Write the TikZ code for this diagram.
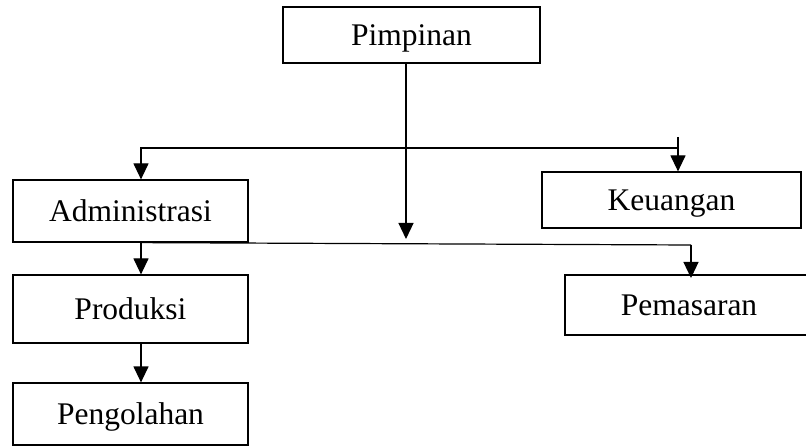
\documentclass[tikz,border=0pt]{standalone}
\usepackage{fontspec}
\setmainfont{Liberation Serif}
\usetikzlibrary{arrows.meta}
\begin{document}
\begin{tikzpicture}[x=1pt,y=-1pt,
  box/.style={draw,line width=1.2pt,inner sep=0pt,text depth=0pt,font=\fontsize{31.5}{36}\selectfont},
  arr/.style={line width=1.2pt,-{Triangle[width=15pt,length=16pt]}},
  ln/.style={line width=1.2pt}]
\clip (0,0) rectangle (806,446);
\useasboundingbox (0,0) rectangle (806,446);
\node[box,minimum width=257pt,minimum height=56pt] (pim) at (411.5,35) {Pimpinan};
\node[box,minimum width=235pt,minimum height=62pt] (adm) at (130.5,211) {Administrasi};
\node[box,minimum width=235pt,minimum height=68pt] (pro) at (130.5,309) {Produksi};
\node[box,minimum width=235pt,minimum height=62pt] (pen) at (130.5,414) {Pengolahan};
\node[box,minimum width=259pt,minimum height=56pt] (keu) at (671.5,200) {Keuangan};
\node[box,minimum width=248pt,minimum height=60pt] (pem) at (689,305) {Pemasaran};
\coordinate (midtip) at (406,239);
\coordinate (al) at (141,148);
\coordinate (jr) at (678,148);
\coordinate (kt) at (678,137);
\coordinate (r2) at (691,245);
\coordinate (pt) at (691,278);
\draw[arr] (pim.south -| midtip) -- (midtip);
\draw[arr] (jr) -- (al) -- (al |- adm.north);
\draw[arr] (kt) -- (kt |- keu.north);
\draw[ln] (al |- adm.south) -- (r2);
\draw[arr] (r2) -- (pt);
\draw[arr] (al |- adm.south) -- (al |- pro.north);
\draw[arr] (al |- pro.south) -- (al |- pen.north);
\end{tikzpicture}
\end{document}
